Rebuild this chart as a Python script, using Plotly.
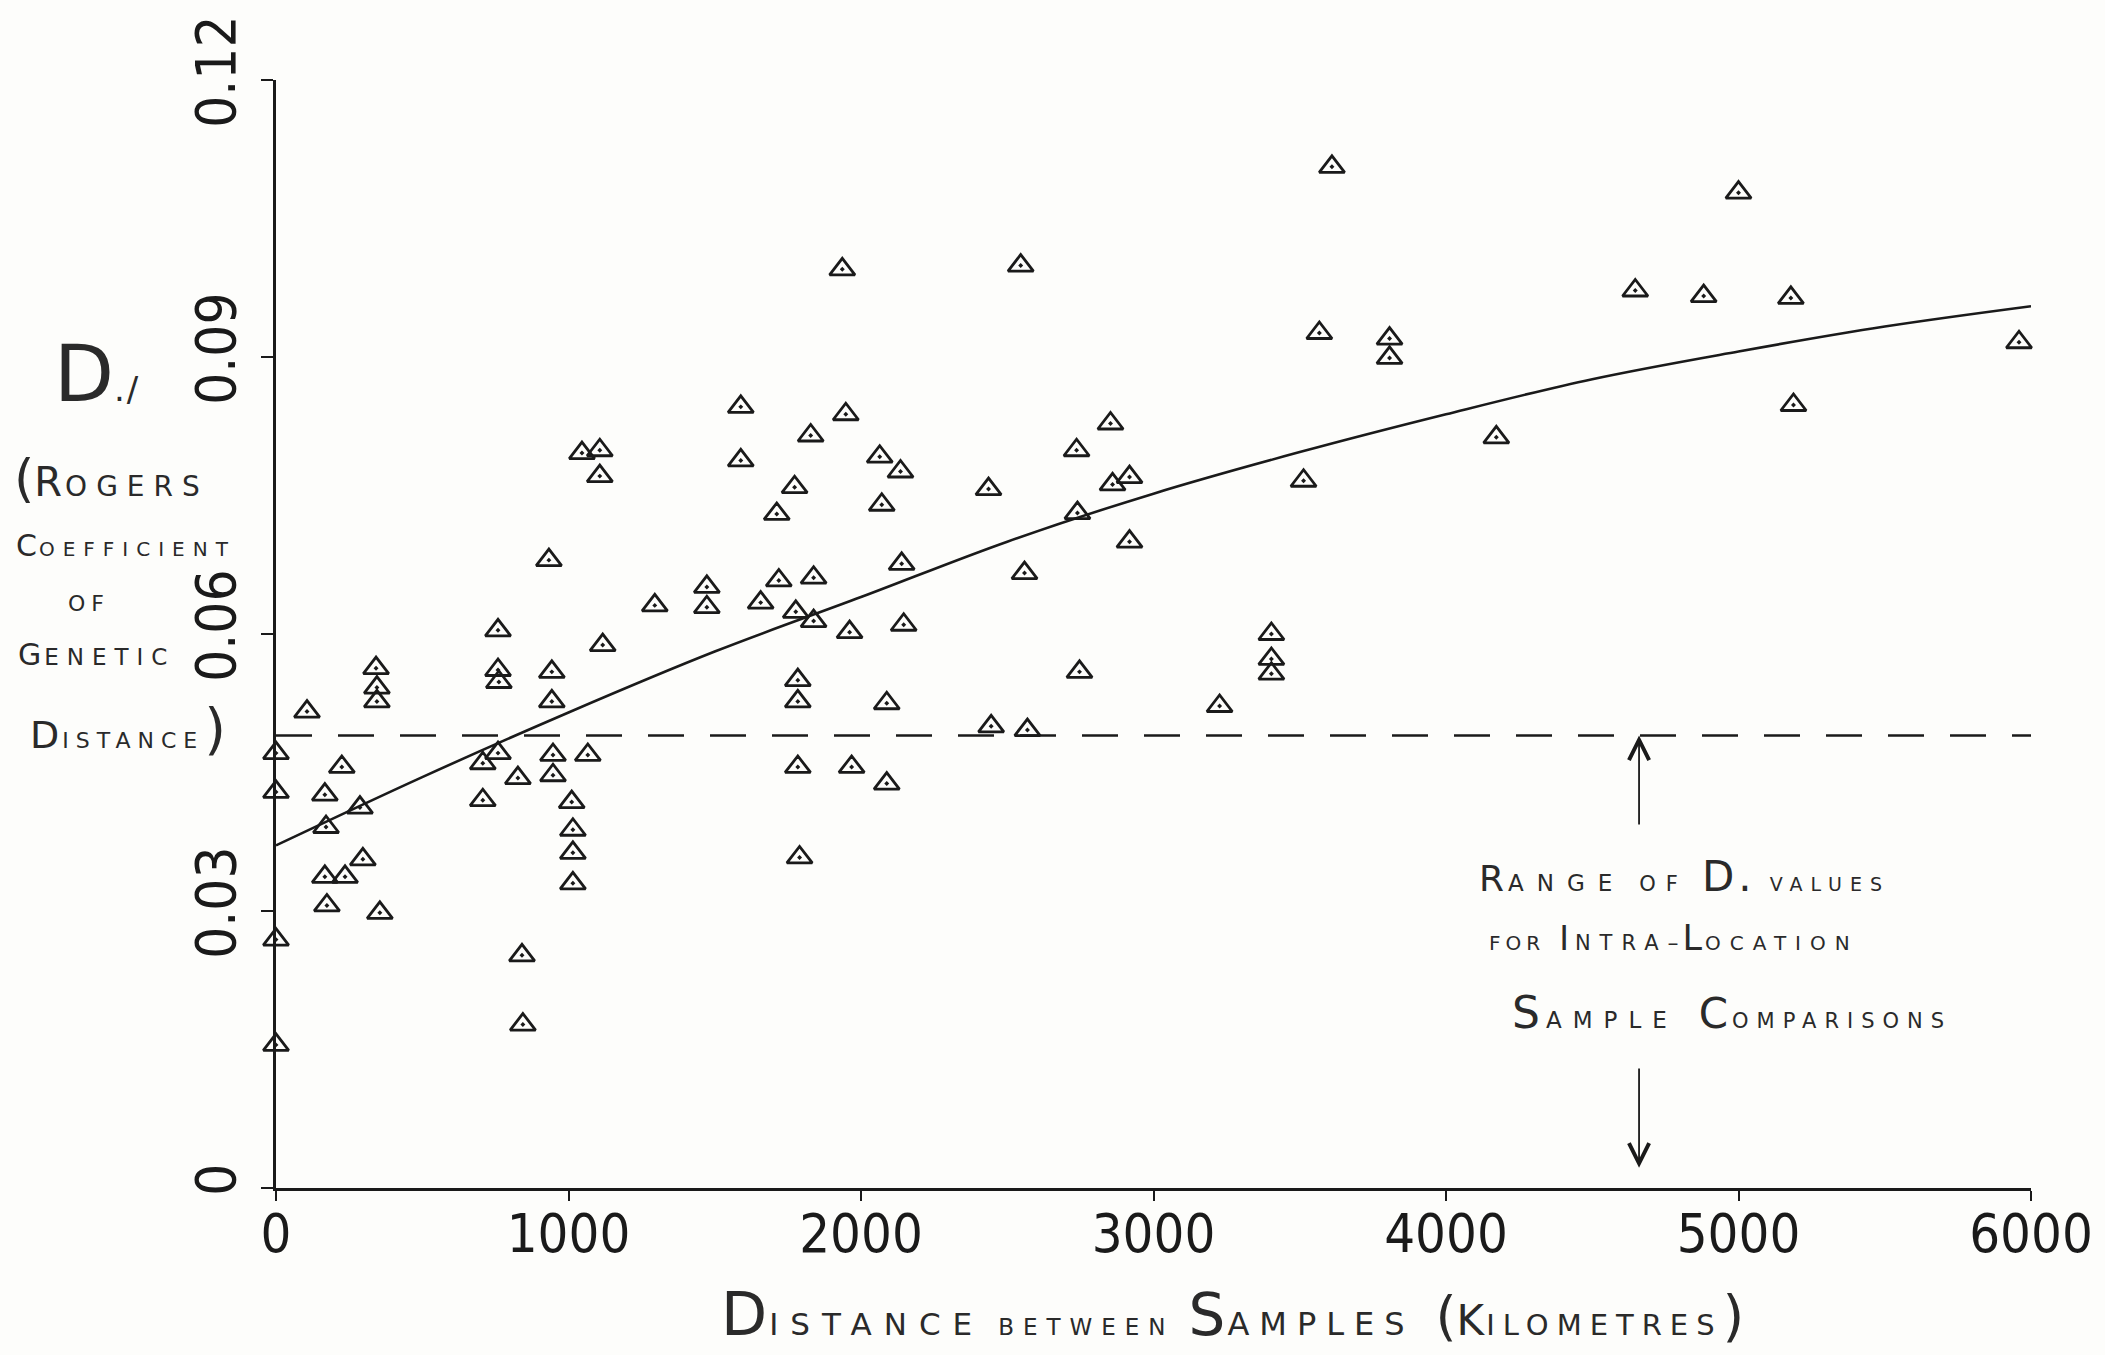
import plotly.graph_objects as go

# ---------------- data ----------------
dist_km = [0, 0, 0, 0, 106, 342, 345, 345, 225, 167, 287, 171, 297, 167, 236, 174, 355,
           759, 759, 762, 943, 943, 1117, 759, 707, 707, 827, 947, 947, 1066, 1011, 1015,
           1015, 1015, 841, 844, 1589, 1948, 1828, 1046, 1107, 1107, 1589, 2064, 2135,
           1773, 1712, 2071, 2436, 933, 2139, 1719, 1838, 1473, 1473, 1295, 1657, 1777,
           1838, 1961, 2146, 1784, 1784, 2088, 1784, 1968, 2088, 1790, 2546, 1936, 3567,
           3807, 3807, 2853, 2737, 2918, 2860, 3513, 4172, 2740, 2918, 2559, 3403, 3403,
           3403, 2747, 3226, 2445, 2569, 3610, 5000, 4647, 4881, 5179, 5188, 5959]
rogers_d = [0.0471, 0.0429, 0.0269, 0.0155, 0.0516, 0.0563, 0.0542, 0.0527, 0.0456, 0.0426,
            0.0412, 0.0391, 0.0356, 0.0337, 0.0337, 0.0306, 0.0298, 0.0604, 0.0561, 0.0548,
            0.0559, 0.0527, 0.0588, 0.0471, 0.0460, 0.0420, 0.0444, 0.0469, 0.0447, 0.0469,
            0.0418, 0.0388, 0.0363, 0.0330, 0.0252, 0.0177, 0.0846, 0.0838, 0.0815, 0.0796,
            0.0799, 0.0771, 0.0788, 0.0792, 0.0776, 0.0759, 0.0730, 0.0740, 0.0757, 0.0680,
            0.0676, 0.0658, 0.0661, 0.0651, 0.0629, 0.0631, 0.0634, 0.0624, 0.0614, 0.0602,
            0.0610, 0.0550, 0.0527, 0.0525, 0.0456, 0.0456, 0.0438, 0.0358, 0.0999, 0.0995,
            0.0926, 0.0920, 0.0899, 0.0828, 0.0799, 0.0770, 0.0762, 0.0766, 0.0813, 0.0731,
            0.0700, 0.0666, 0.0600, 0.0573, 0.0557, 0.0559, 0.0522, 0.0500, 0.0496, 0.1106,
            0.1078, 0.0972, 0.0966, 0.0964, 0.0848, 0.0916]

curve_km = [0, 500, 1000, 1500, 2000, 2500, 3000, 3500, 4000, 4500, 5000, 5500, 6000]
curve_d = [0.0371, 0.0445, 0.0515, 0.0581, 0.0640, 0.0700, 0.0752, 0.0797, 0.0838,
           0.0876, 0.0906, 0.0933, 0.0955]

intra_km = [0, 6000]
intra_d = [0.049, 0.049]

x_tick_vals = [0, 1000, 2000, 3000, 4000, 5000, 6000]
x_tick_text = ["0", "1000", "2000", "3000", "4000", "5000", "6000"]
y_tick_vals = [0, 0.03, 0.06, 0.09, 0.12]
y_tick_text = ["0", "0.03", "0.06", "0.09", "0.12"]

arrow_km = 4660
arrow_up_d = [0.0392, 0.049]
arrow_down_d = [0.0131, 0.0022]

# ---------------- layout geometry ----------------
W, H = 2105, 1355
L, R, T, B = 276, 74, 80, 167
PW, PH = W - L - R, H - T - B

def px(x):
    return (x - L) / PW

def py(y):
    return (H - B - y) / PH

INK = "#1a1a1a"
TXT = "#2a2a2a"
HAND = "DejaVu Sans"
DIGIT = "Liberation Sans Narrow, DejaVu Sans Condensed, Roboto Condensed, Roboto, sans-serif"

def sp(t, size, ls=0):
    return f"<span style='font-size:{size}px;letter-spacing:{ls}px'>{t}</span>"

fig = go.Figure()

fig.add_trace(go.Scatter(
    x=intra_km, y=intra_d, mode="lines", hoverinfo="skip", showlegend=False,
    line=dict(color=INK, width=2.5, dash="36px,26px")))

fig.add_trace(go.Scatter(
    x=curve_km, y=curve_d, mode="lines", hoverinfo="skip", showlegend=False,
    line=dict(color=INK, width=2.6, shape="spline", smoothing=1.0)))

fig.add_trace(go.Scatter(
    x=dist_km, y=rogers_d, mode="markers", showlegend=False, cliponaxis=False,
    marker=dict(symbol="triangle-up-open-dot", size=22, color=INK,
                line=dict(width=2.8, color=INK))))

annotations = []

# arrows for intra-location range
annotations.append(dict(x=arrow_km, y=arrow_up_d[1], ax=arrow_km, ay=arrow_up_d[0],
                        xref="x", yref="y", axref="x", ayref="y", text="",
                        showarrow=True, arrowhead=5, arrowsize=2.2, arrowwidth=1.8,
                        arrowcolor=INK, standoff=0))
annotations.append(dict(x=arrow_km, y=arrow_down_d[1], ax=arrow_km, ay=arrow_down_d[0],
                        xref="x", yref="y", axref="x", ayref="y", text="",
                        showarrow=True, arrowhead=5, arrowsize=2.2, arrowwidth=1.8,
                        arrowcolor=INK, standoff=0))

def note(text, x, y, xanchor="left"):
    annotations.append(dict(text=text, x=px(x), y=py(y), xref="paper", yref="paper",
                            xanchor=xanchor, yanchor="middle", showarrow=False,
                            font=dict(family=HAND, size=22, color=TXT)))

# right-hand annotation
note(sp("R", 36, 4) + sp("ANGE", 23, 13) + "  " + sp("OF", 21, 10) + "  " +
     sp("D.", 42, 4) + "  " + sp("VALUES", 19, 8), 1477, 876)
note(sp("FOR", 20, 5) + "  " + sp("I", 33, 6) + sp("NTRA", 21, 9) + sp("–", 22, 4) +
     sp("L", 35, 3) + sp("OCATION", 20, 9), 1487, 938)
note(sp("S", 44, 6) + sp("AMPLE", 23, 11) + "   " + sp("C", 42, 4) +
     sp("OMPARISONS", 21, 8), 1510, 1012)

# y axis title (hand-lettered block)
note(sp("D", 78, 0) + sp("./", 34, 2), 52, 374)
note(sp("(", 52, 0) + sp("R", 40, 3) + sp("OGERS", 28, 9), 12, 478)
note(sp("C", 30, 2) + sp("OEFFICIENT", 20, 8), 14, 545)
note(sp("OF", 22, 6), 66, 603)
note(sp("G", 30, 3) + sp("ENETIC", 23, 8), 16, 654)
note(sp("D", 38, 3) + sp("ISTANCE", 22, 7) + sp(")", 56, 0), 28, 728)

# x axis title
note(sp("D", 60, 2) + sp("ISTANCE", 31, 12) + "  " + sp("BETWEEN", 23, 9) + "  " +
     sp("S", 58, 2) + sp("AMPLES", 32, 10) + "   " + sp("(", 54, 0) + sp("K", 42, 2) +
     sp("ILOMETRES", 29, 8) + sp(")", 56, 0), 1232, 1314, xanchor="center")

fig.update_layout(
    width=W, height=H,
    margin=dict(l=L, r=R, t=T, b=B, pad=0),
    paper_bgcolor="#fdfdfb", plot_bgcolor="#fdfdfb",
    showlegend=False,
    annotations=annotations,
    xaxis=dict(range=[0, 6000], tickvals=x_tick_vals, ticktext=x_tick_text,
               showline=True, linecolor=INK, linewidth=3, ticks="outside",
               ticklen=10, tickwidth=2, tickcolor=INK, showgrid=False, zeroline=False,
               tickfont=dict(family=DIGIT, size=54, color=INK), ticklabelstandoff=-14),
    yaxis=dict(range=[0, 0.12], tickvals=y_tick_vals, ticktext=y_tick_text,
               showline=True, linecolor=INK, linewidth=3, ticks="outside",
               ticklen=12, tickwidth=2, tickcolor=INK, showgrid=False, zeroline=False,
               tickangle=-90, tickfont=dict(family=DIGIT, size=56, color=INK),
               ticklabelstandoff=4),
)

fig.write_html("out.html")
